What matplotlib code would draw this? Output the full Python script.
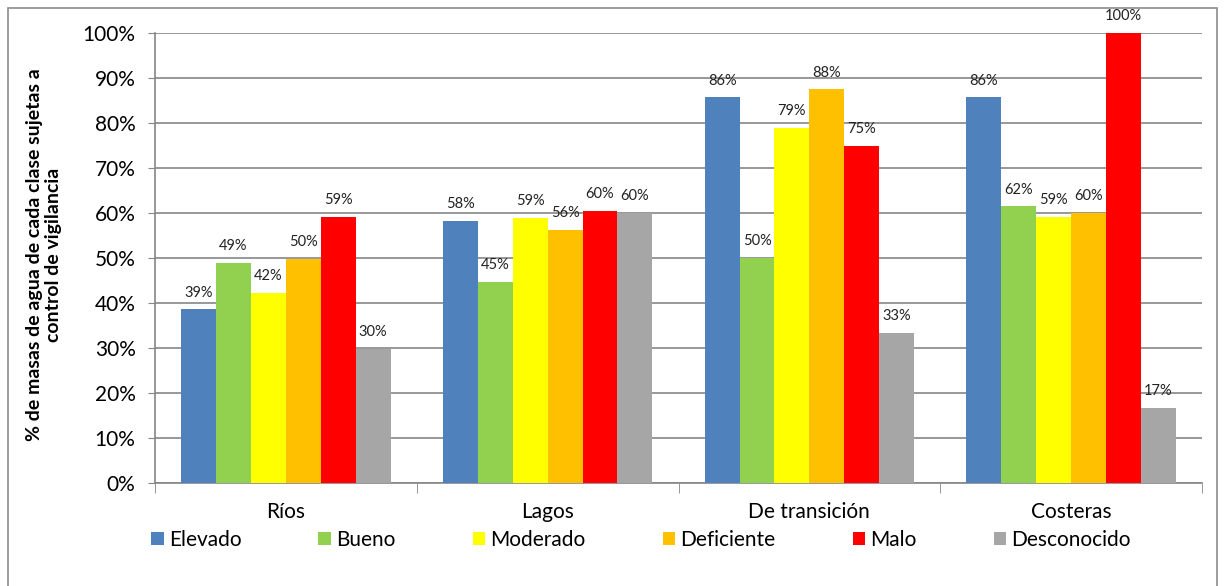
import numpy as np
import matplotlib.pyplot as plt
from matplotlib.patches import Rectangle

plt.rcParams['font.family'] = ['Lato', 'DejaVu Sans']

categories = ['Ríos', 'Lagos', 'De transición', 'Costeras']
series = ['Elevado', 'Bueno', 'Moderado', 'Deficiente', 'Malo', 'Desconocido']
colors = ['#4F81BD', '#92D050', '#FFFF00', '#FFC000', '#FF0000', '#A6A6A6']

elevado = [38.6, 58.3, 85.7, 85.7]
bueno = [48.9, 44.7, 50.0, 61.5]
moderado = [42.2, 58.9, 78.9, 59.1]
deficiente = [49.8, 56.2, 87.5, 60.0]
malo = [59.1, 60.4, 75.0, 100.0]
desconocido = [29.8, 60.0, 33.3, 16.7]
values = [elevado, bueno, moderado, deficiente, malo, desconocido]

fig = plt.figure(figsize=(12.25, 5.86), dpi=100)
ax = fig.add_axes([155/1225, 1-483/586, (1202-155)/1225, (483-33)/586])

# outer frame
fig.patches.append(Rectangle((8/1225, -0.01), (1217-8)/1225, 1-8/586+0.01,
                             transform=fig.transFigure, fill=False,
                             edgecolor='#8c8c8c', lw=1.2))

x = np.arange(len(categories)) + 0.5
w = 0.8 / len(series)
for i, (name, vals, c) in enumerate(zip(series, values, colors)):
    pos = x - 0.4 + w * (i + 0.5)
    bars = ax.bar(pos, vals, width=w, color=c, label=name, zorder=3)
    for b, v in zip(bars, vals):
        ax.annotate(f'{round(v):d}%', (b.get_x() + b.get_width()/2, v),
                    xytext=(0, 7), textcoords='offset points',
                    ha='center', va='bottom', fontsize=10.5, color='#222222')

ax.set_xlim(0, 4)
ax.set_ylim(0, 100)
ax.set_yticks(np.arange(0, 101, 10))
ax.set_yticklabels([f'{t}%' for t in range(0, 101, 10)], fontsize=15)
ax.set_xticks(x)
ax.set_xticklabels(categories, fontsize=15)
ax.set_xticks(np.arange(0, 5), minor=True)
ax.tick_params(axis='x', which='major', length=0, pad=14)
ax.tick_params(axis='x', which='minor', length=7, color='#868686')
ax.tick_params(axis='y', length=5, color='#868686', pad=9)
ax.grid(axis='y', color='#868686', lw=1.2, zorder=0)
for s in ['top', 'right']:
    ax.spines[s].set_visible(False)
for s in ['left', 'bottom']:
    ax.spines[s].set_color('#868686')
    ax.spines[s].set_linewidth(1.2)

fig.text(44/1225, 1-255/586,
         '% de masas de agua de cada clase sujetas a\ncontrol de vigilancia',
         rotation=90, ha='center', va='center', fontsize=14,
         fontweight='bold', linespacing=1.1)

fig.legend(loc='center', bbox_to_anchor=(641/1225, 1-540/586), ncol=6,
           frameon=False, fontsize=15, handlelength=0.6, handleheight=0.6,
           handletextpad=0.25, columnspacing=3.7)

fig.savefig('out.png', dpi=100)
